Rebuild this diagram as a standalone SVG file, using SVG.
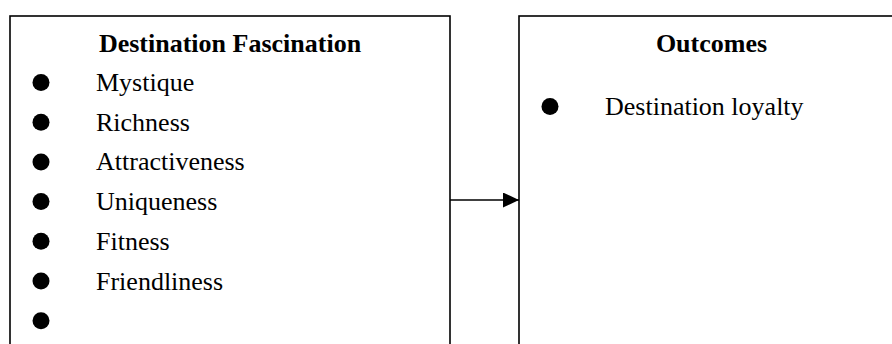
<svg xmlns="http://www.w3.org/2000/svg" width="892" height="344" viewBox="0 0 892 344">
  <defs>
    <style>
      .box { fill: #ffffff; stroke: #000000; stroke-width: 1.6; }
      .head { font-family: "Liberation Serif", "Times New Roman", serif; font-size: 26px; font-weight: bold; fill: #000000; text-anchor: middle; }
      .item { font-family: "Liberation Serif", "Times New Roman", serif; font-size: 26px; fill: #000000; }
      .dot { fill: #000000; }
      .link { stroke: #000000; stroke-width: 1.6; fill: none; }
    </style>
    <marker id="arrowhead" markerWidth="16" markerHeight="15" refX="16" refY="7.5" orient="auto" markerUnits="userSpaceOnUse">
      <polygon points="0,0 16,7.5 0,15" fill="#000000"/>
    </marker>
  </defs>
  <rect width="892" height="344" fill="#ffffff"/>

  <!-- Left box: destination fascination dimensions -->
  <g id="fascination">
    <rect class="box" x="10" y="16" width="440" height="340"/>
    <text class="head" x="230" y="52">Destination Fascination</text>
    <circle class="dot" cx="41" cy="82.5" r="8.5"/>
    <text class="item" x="96" y="91">Mystique</text>
    <circle class="dot" cx="41" cy="122.2" r="8.5"/>
    <text class="item" x="96" y="130.7">Richness</text>
    <circle class="dot" cx="41" cy="161.9" r="8.5"/>
    <text class="item" x="96" y="170.4">Attractiveness</text>
    <circle class="dot" cx="41" cy="201.6" r="8.5"/>
    <text class="item" x="96" y="210.1">Uniqueness</text>
    <circle class="dot" cx="41" cy="241.3" r="8.5"/>
    <text class="item" x="96" y="249.8">Fitness</text>
    <circle class="dot" cx="41" cy="281" r="8.5"/>
    <text class="item" x="96" y="289.5">Friendliness</text>
    <circle class="dot" cx="41" cy="320.7" r="8.5"/>
  </g>

  <!-- Right box: outcomes -->
  <g id="outcomes">
    <rect class="box" x="519" y="16" width="386" height="340"/>
    <text class="head" x="711.5" y="52">Outcomes</text>
    <circle class="dot" cx="550" cy="106.5" r="8.5"/>
    <text class="item" x="605" y="115">Destination loyalty</text>
  </g>

  <!-- Connectors -->
  <g id="connectors">
    <line class="link" x1="450" y1="200" x2="519" y2="200" marker-end="url(#arrowhead)"/>
  </g>
</svg>
